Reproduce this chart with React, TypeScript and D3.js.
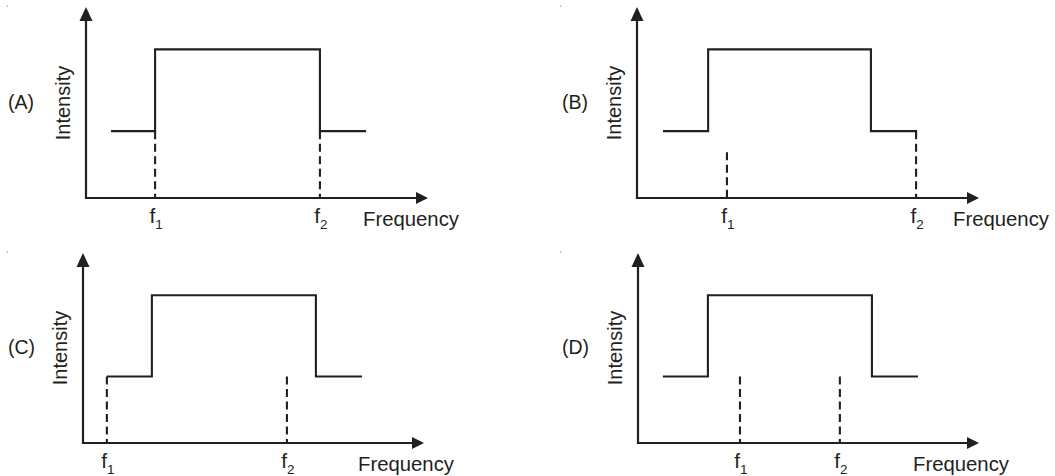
import React from "react";
import * as d3 from "d3";

// ---- data (frequency in arbitrary units 0..100 along the axis, intensity 0..100) ----
const panelNames = ["(A)", "(B)", "(C)", "(D)"];
const lowStart = [7.3, 7.6, 7.0, 7.3];
const riseAt = [20.2, 20.8, 20.2, 20.5];
const fallAt = [68.4, 68.4, 68.3, 68.6];
const lowEnd = [81.9, 81.9, 81.8, 82.1];
const lowLevel = [35, 35, 35, 35];
const highLevel = [77.8, 77.8, 77.8, 77.8];
const f1Pos = [20.2, 26.3, 7.0, 29.9];
const f2Pos = [68.4, 81.6, 59.8, 59.2];
const f1Top = [35, 24, 35, 35];
const f2Top = [35, 35, 35, 35];
const xLabel = "Frequency";
const yLabel = "Intensity";

// ---- layout ----
const layout = [
  { ox: 86, oy: 198, xEnd: 428, yTop: 7, tagX: 8, freqX: 363 },
  { ox: 637, oy: 198, xEnd: 979, yTop: 7, tagX: 562, freqX: 953 },
  { ox: 83, oy: 443, xEnd: 424, yTop: 253, tagX: 8, freqX: 358 },
  { ox: 638, oy: 443, xEnd: 979, yTop: 253, tagX: 562, freqX: 913 },
];
const ink = "#231f20";
const font = "'Liberation Sans', Arial, Helvetica, sans-serif";

function Panel({ i }: { i: number }) {
  const L = layout[i];
  const x = d3.scaleLinear().domain([0, 100]).range([L.ox, L.xEnd]);
  const y = d3.scaleLinear().domain([0, 100]).range([L.oy, L.yTop]);
  const pts: [number, number][] = [
    [lowStart[i], lowLevel[i]],
    [riseAt[i], lowLevel[i]],
    [riseAt[i], highLevel[i]],
    [fallAt[i], highLevel[i]],
    [fallAt[i], lowLevel[i]],
    [lowEnd[i], lowLevel[i]],
  ];
  const line = d3
    .line<[number, number]>()
    .x((d) => x(d[0]))
    .y((d) => y(d[1]));
  const ax = x(0);
  const ay = y(0);
  const yTip = y(100);
  const xTip = x(100);
  const ahLen = 14;
  const ahW = 6.5;
  const xhLen = 12;
  const xhW = 6;
  const fl = [
    { v: f1Pos[i], top: f1Top[i], sub: "1" },
    { v: f2Pos[i], top: f2Top[i], sub: "2" },
  ];
  return (
    <g>
      {/* axes */}
      <line x1={ax} y1={ay} x2={ax} y2={yTip + ahLen - 1} stroke={ink} strokeWidth={2.2} />
      <line x1={ax - 1.1} y1={ay} x2={xTip - xhLen + 1} y2={ay} stroke={ink} strokeWidth={2.2} />
      <path d={`M${ax},${yTip} L${ax - ahW},${yTip + ahLen} L${ax + ahW},${yTip + ahLen} Z`} fill={ink} />
      <path d={`M${xTip},${ay} L${xTip - xhLen},${ay - xhW} L${xTip - xhLen},${ay + xhW} Z`} fill={ink} />
      {/* dashed markers */}
      {fl.map((f, k) => (
        <line
          key={k}
          x1={x(f.v)}
          x2={x(f.v)}
          y1={y(f.top)}
          y2={ay}
          stroke={ink}
          strokeWidth={2.1}
          strokeDasharray="8,4.5"
        />
      ))}
      {/* step profile */}
      <path d={line(pts) || ""} fill="none" stroke={ink} strokeWidth={2.1} />
      {/* f labels */}
      {fl.map((f, k) => (
        <text key={"t" + k} x={x(f.v) + 1} y={ay + 24.5} fontSize={21} fill={ink} textAnchor="middle" fontFamily={font}>
          f
          <tspan fontSize={13.5} dy={6.5}>
            {f.sub}
          </tspan>
        </text>
      ))}
      <text x={L.freqX} y={ay + 28} fontSize={19.5} fill={ink} fontFamily={font} textLength={96} lengthAdjust="spacingAndGlyphs">
        {xLabel}
      </text>
      <text
        transform={`translate(${ax - 16},${ay - 95}) rotate(-90)`}
        textAnchor="middle"
        fontSize={20}
        fill={ink}
        fontFamily={font}
      >
        {yLabel}
      </text>
      <text x={L.tagX} y={ay - 89} fontSize={19.5} fill={ink} fontFamily={font}>
        {panelNames[i]}
      </text>
      <circle cx={L.tagX - 1} cy={L.yTop - 1} r={0.7} fill="#888" />
    </g>
  );
}

export default function App() {
  return (
    <svg
      width={1055}
      height={476}
      viewBox="0 0 1055 476"
      style={{ position: "absolute", left: 0, top: 0, background: "#fff" }}
    >
      <rect width={1055} height={476} fill="#fff" />
      {panelNames.map((_, i) => (
        <Panel key={i} i={i} />
      ))}
    </svg>
  );
}
